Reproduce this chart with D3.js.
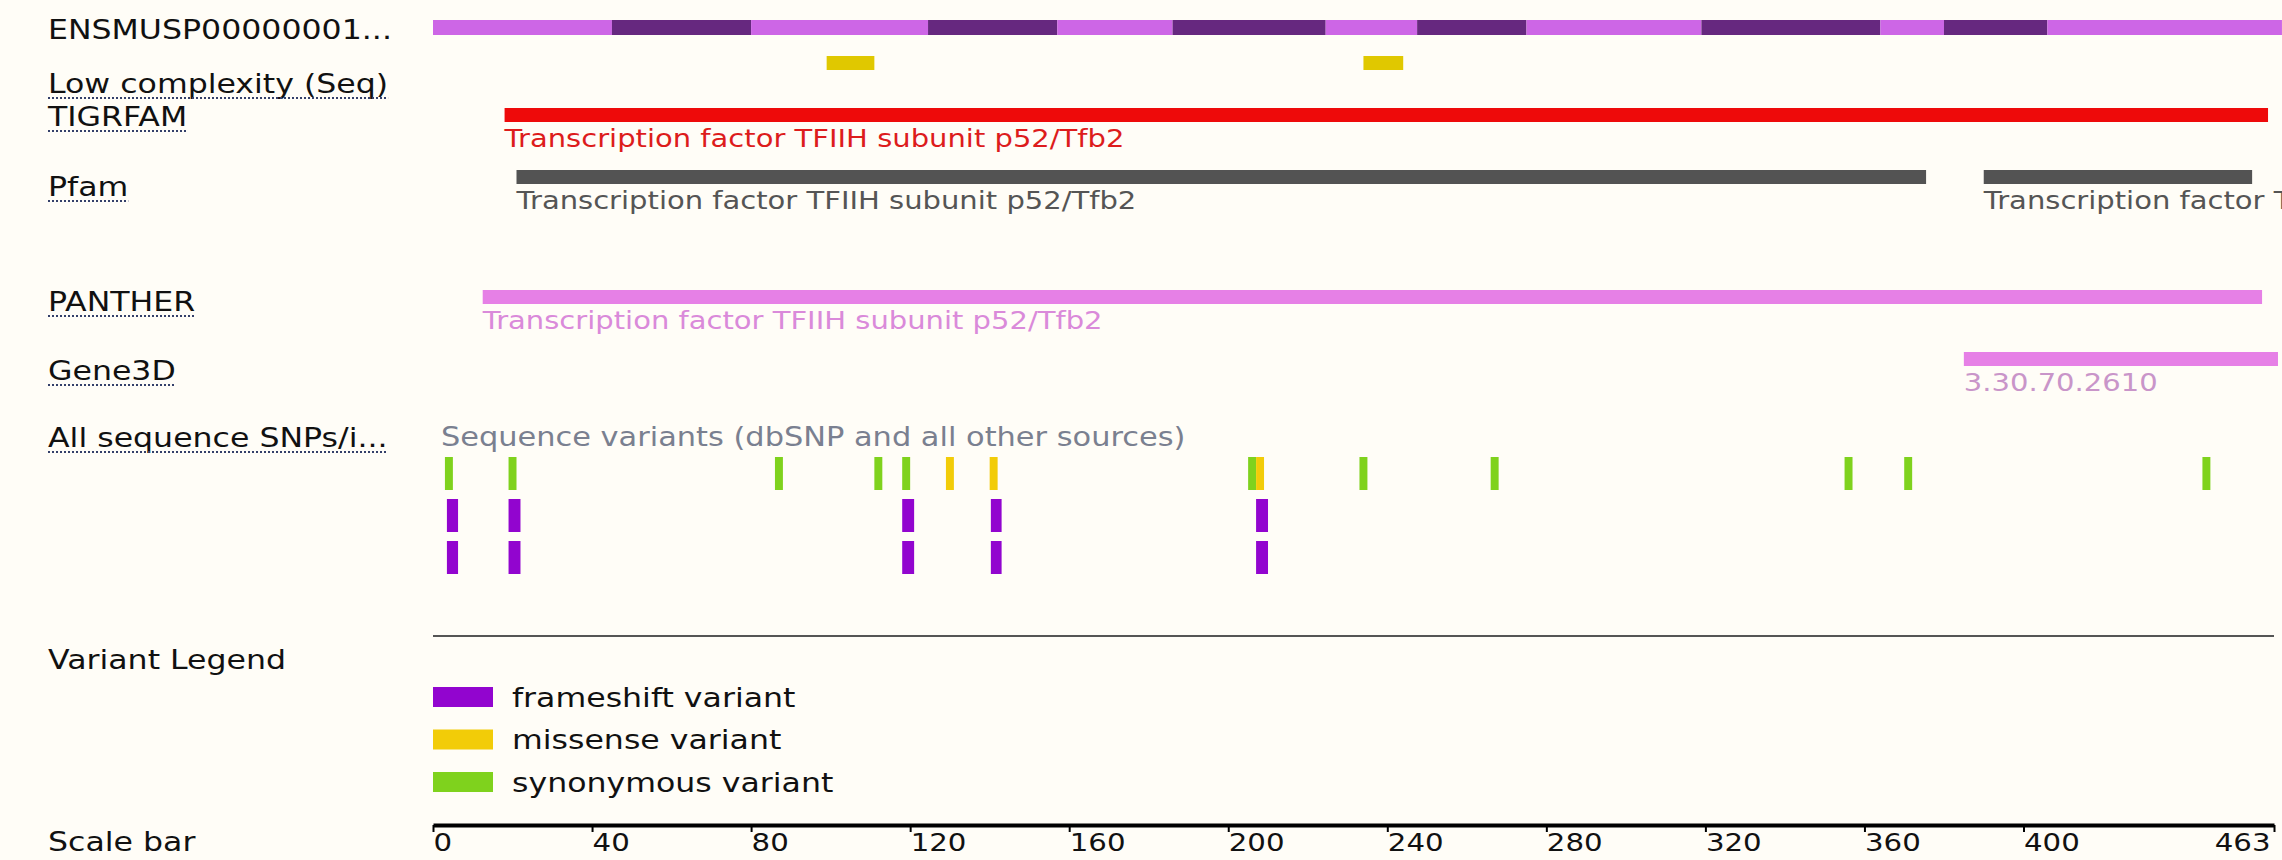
<!DOCTYPE html>
<html>
<head>
<meta charset="utf-8">
<script src="https://cdn.jsdelivr.net/npm/d3@7"></script>
<style>
body{margin:0;background:#fffdf7;}
svg{display:block;font-family:"DejaVu Sans",Verdana,sans-serif;}
</style>
</head>
<body>
<div id="chart"></div>
<script>
'use strict';
// protein length in aa
var proteinLength = 463;
var trackNames = ["ENSMUSP00000001...","Low complexity (Seq)","TIGRFAM","Pfam","PANTHER","Gene3D","All sequence SNPs/i...","Variant Legend","Scale bar"];
var linkTracks = ["Low complexity (Seq)","TIGRFAM","Pfam","PANTHER","Gene3D","All sequence SNPs/i..."];
// exon boundaries (aa), alternating light / dark
var exonEdges = [0,45,80,124.5,157,186,224.5,247.5,275,319,364,380,406,465];
var lowComplexity = [[99,111],[234,244]];
var tigrfamHits = [[18,461.5]];
var pfamHits = [[21,375.5],[390,457.5]];
var pantherHits = [[12.5,460]];
var gene3dHits = [[385,464]];
var domainName = "Transcription factor TFIIH subunit p52/Tfb2";
var gene3dName = "3.30.70.2610";
var variantTitle = "Sequence variants (dbSNP and all other sources)";
var synonymousVars = [[3,5],[19,21],[86,88],[111,113],[118,120],[205,207],[233,235],[266,268],[355,357],[370,372],[445,447]];
var missenseVars = [[129,131],[140,142],[207,209]];
var frameshiftRow1 = [[3.5,6.3],[19,22],[118,121],[140.3,143],[207,210]];
var frameshiftRow2 = [[3.5,6.3],[19,22],[118,121],[140.3,143],[207,210]];
var legendNames = ["frameshift variant","missense variant","synonymous variant"];
var scaleTicks = [0,40,80,120,160,200,240,280,320,360,400,463];

var W = 2282, H = 860;
var stretch = 1.17;
var colors = {
    exonLight:"#cd66e6", exonDark:"#66287f", lowc:"#e0c800",
    tigr:"#ee0a0a", tigrText:"#dd1c1c", pfam:"#535353", pfamText:"#555",
    panther:"#e680e6", pantherText:"#da8ada", gene3dText:"#c995c9",
    frameshift:"#9205cf", missense:"#f2cc08", synonymous:"#7fd21d"
};
var legendColors = [colors.frameshift, colors.missense, colors.synonymous];

// track label centre lines
var rowY = [29,83,116,186,301,370,437,659,841];

var x = d3.scaleLinear().domain([0, proteinLength]).range([433, 2274]);

var svg = d3.select("#chart").append("svg")
    .attr("width", W).attr("height", H);
svg.append("rect").attr("width", W).attr("height", H).attr("fill", "#fffdf7");

function label(g, px, py, str, fill, size, anchor){
    return g.append("text")
        .attr("transform", "translate(" + px + "," + py + ") scale(" + stretch + ",1)")
        .attr("dy", "0.36em")
        .attr("font-size", size)
        .attr("text-anchor", anchor || "start")
        .attr("fill", fill)
        .text(str);
}

// left labels
var labels = svg.append("g");
trackNames.forEach(function(name, i){
    var t = label(labels, 48, rowY[i], name, "#111", 27);
    if (linkTracks.indexOf(name) >= 0) {
        var w = t.node().getComputedTextLength() * stretch;
        labels.append("line")
            .attr("x1", 48).attr("x2", 48 + w)
            .attr("y1", rowY[i] + 15).attr("y2", rowY[i] + 15)
            .attr("stroke", "#34406a").attr("stroke-width", 2)
            .attr("stroke-dasharray", "2,2");
    }
});

// protein / exon bar
var exons = d3.range(exonEdges.length - 1).map(function(i){ return [exonEdges[i], exonEdges[i+1]]; });
svg.append("g").selectAll("rect").data(exons).join("rect")
    .attr("x", function(d){ return x(d[0]); })
    .attr("width", function(d){ return x(d[1]) - x(d[0]); })
    .attr("y", 20).attr("height", 15)
    .attr("fill", function(d, i){ return i % 2 ? colors.exonDark : colors.exonLight; });

// simple feature track
function featureTrack(data, top, fill, text, textFill){
    var g = svg.append("g");
    g.selectAll("rect").data(data).join("rect")
        .attr("x", function(d){ return x(d[0]); })
        .attr("width", function(d){ return x(d[1]) - x(d[0]); })
        .attr("y", top).attr("height", 14)
        .attr("fill", fill);
    if (text) {
        data.forEach(function(d){
            label(g, x(d[0]), top + 30, text, textFill, 24.8);
        });
    }
}
featureTrack(lowComplexity, 56, colors.lowc);
featureTrack(tigrfamHits, 108, colors.tigr, domainName, colors.tigrText);
featureTrack(pfamHits, 170, colors.pfam, domainName, colors.pfamText);
featureTrack(pantherHits, 290, colors.panther, domainName, colors.pantherText);
featureTrack(gene3dHits, 352, colors.panther, gene3dName, colors.gene3dText);

// variants
label(svg, x(2), 437, variantTitle, "#7a8090", 26);
function variantRow(data, top, fill){
    svg.append("g").selectAll("rect").data(data).join("rect")
        .attr("x", function(d){ return x(d[0]); })
        .attr("width", function(d){ return x(d[1]) - x(d[0]); })
        .attr("y", top).attr("height", 33)
        .attr("fill", fill);
}
variantRow(synonymousVars, 457, colors.synonymous);
variantRow(missenseVars, 457, colors.missense);
variantRow(frameshiftRow1, 499, colors.frameshift);
variantRow(frameshiftRow2, 541, colors.frameshift);

// legend
svg.append("line")
    .attr("x1", x(0)).attr("x2", x(proteinLength))
    .attr("y1", 636).attr("y2", 636)
    .attr("stroke", "#555").attr("stroke-width", 2);
var leg = svg.append("g");
legendNames.forEach(function(name, i){
    var cy = 697 + i * 42.5;
    leg.append("rect").attr("x", x(0)).attr("y", cy - 10)
        .attr("width", 60).attr("height", 20).attr("fill", legendColors[i]);
    label(leg, 512, cy, name, "#111", 27);
});

// scale bar
var axis = d3.axisBottom(x).tickValues(scaleTicks).tickSize(7).tickSizeOuter(0);
var ag = svg.append("g").attr("transform", "translate(0,825)").call(axis);
ag.select(".domain").attr("stroke", "#000").attr("stroke-width", 4);
ag.selectAll(".tick line").attr("stroke", "#000").attr("stroke-width", 2);
ag.selectAll(".tick text")
    .attr("font-family", "DejaVu Sans, Verdana, sans-serif")
    .attr("font-size", 25).attr("fill", "#111")
    .attr("y", 8)
    .attr("x", function(d){ return d === proteinLength ? -4 / stretch : 0; })
    .attr("transform", "scale(" + stretch + ",1)")
    .attr("text-anchor", function(d){ return d === proteinLength ? "end" : "start"; });
</script>
</body>
</html>
